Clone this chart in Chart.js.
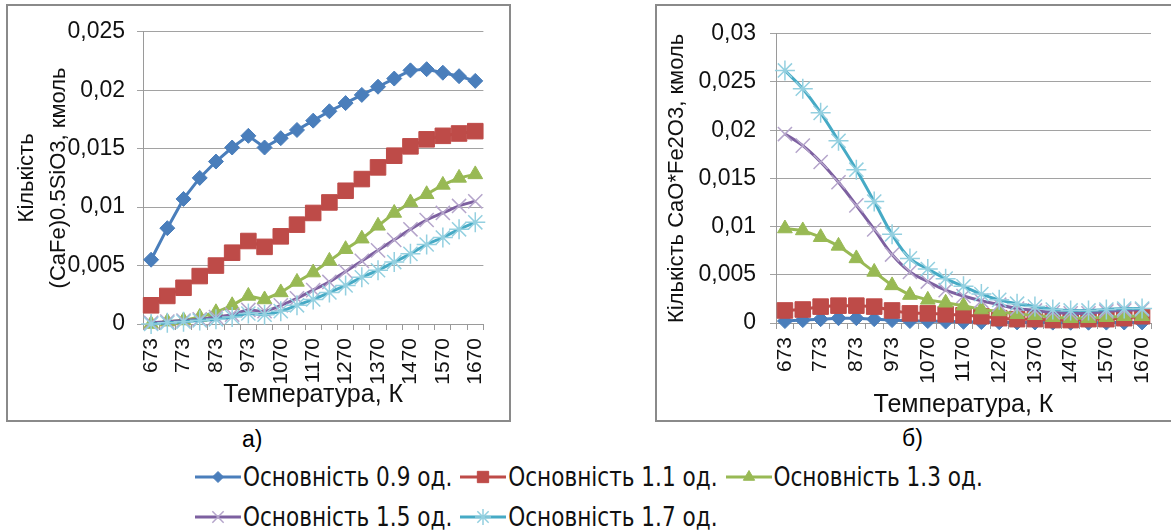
<!DOCTYPE html>
<html>
<head>
<meta charset="utf-8">
<script src="https://cdn.jsdelivr.net/npm/chart.js"></script>
<style>
    body { margin: 0; background: #fff; width: 1171px; height: 532px; overflow: hidden; position: relative; font-family: "Liberation Sans", Arial, sans-serif; }
    .box { position: absolute; border: 2px solid #8a8a8a; background: #fff; }
    .box canvas { position: absolute; left: 0; top: 0; }
    .caption { position: absolute; font-size: 23px; color: #000; }
    .legend-row { position: absolute; left: 195px; display: flex; align-items: center; gap: 8px; }
    .legend-item { display: flex; align-items: center; }
    .legend-item span { font-family: "DejaVu Sans Condensed", "DejaVu Sans", sans-serif; font-stretch: condensed; font-size: 24px; color: #111; margin-left: 2px; display: inline-block; transform: scaleY(1.1); }
</style>
</head>
<body>
<div class="box" id="boxA" style="left:6px; top:4px; width:501px; height:414px;"><canvas id="chartA" width="501" height="414"></canvas></div>
<div class="box" id="boxB" style="left:655px; top:4px; width:521px; height:414px;"><canvas id="chartB" width="521" height="414"></canvas></div>
<div class="caption" style="left:242px; top:426px;">а)</div>
<div class="caption" style="left:902px; top:425px;">б)</div>
<div class="legend-row" id="legendRow1" style="top:463px;"></div>
<div class="legend-row" id="legendRow2" style="top:503px;"></div>

<script>
const temperatures = ['673', '723', '773', '823', '873', '923', '973', '1020', '1070', '1120', '1170',
    '1220', '1270', '1320', '1370', '1420', '1470', '1520', '1570', '1620', '1670'];

const seriesNames = ['Основність 0.9 од.', 'Основність 1.1 од.', 'Основність 1.3 од.',
    'Основність 1.5 од.', 'Основність 1.7 од.'];

// (CaFe)0.5SiO3, кмоль
const silicate09 = [0.0055, 0.0082, 0.0107, 0.0125, 0.0139, 0.0151, 0.0161, 0.0151, 0.0159, 0.0166, 0.0174,
    0.0182, 0.0189, 0.0196, 0.0203, 0.0210, 0.0217, 0.0218, 0.0215, 0.0212, 0.0208];
const silicate11 = [0.0016, 0.0024, 0.0031, 0.0041, 0.0050, 0.0061, 0.0071, 0.0066, 0.0075, 0.0085, 0.0095,
    0.0104, 0.0114, 0.0124, 0.0134, 0.0144, 0.0152, 0.0158, 0.0161, 0.0163, 0.0165];
const silicate13 = [0.0000, 0.0002, 0.0003, 0.0006, 0.0010, 0.0016, 0.0024, 0.0021, 0.0027, 0.0036, 0.0044,
    0.0054, 0.0064, 0.0073, 0.0084, 0.0095, 0.0104, 0.0111, 0.0119, 0.0125, 0.0128];
const silicate15 = [0.0001, 0.0002, 0.0003, 0.0004, 0.0006, 0.0008, 0.0012, 0.0011, 0.0016, 0.0022, 0.0029,
    0.0036, 0.0045, 0.0054, 0.0063, 0.0072, 0.0081, 0.0089, 0.0095, 0.0101, 0.0105];
const silicate17 = [0.0000, 0.0001, 0.0002, 0.0003, 0.0004, 0.0006, 0.0009, 0.0008, 0.0011, 0.0016, 0.0021,
    0.0027, 0.0033, 0.0040, 0.0046, 0.0053, 0.0060, 0.0068, 0.0074, 0.0081, 0.0087];

// CaO*Fe2O3, кмоль
const ferrite09 = [0.0002, 0.0003, 0.0004, 0.0005, 0.0005, 0.0004, 0.0003, 0.0002, 0.0002, 0.00015, 0.00012,
    0.0001, 0.00008, 0.00006, 0.00005, 0.00004, 0.00003, 0.00003, 0.00004, 0.00005, 0.00006];
const ferrite11 = [0.0013, 0.0014, 0.0017, 0.0018, 0.0018, 0.0017, 0.0013, 0.0010, 0.0010, 0.0009, 0.0008,
    0.0007, 0.0005, 0.0004, 0.0004, 0.0003, 0.0003, 0.0004, 0.0004, 0.0005, 0.0007];
const ferrite13 = [0.0098, 0.0096, 0.0089, 0.0080, 0.0067, 0.0053, 0.0039, 0.0029, 0.0024, 0.0021, 0.0018,
    0.0014, 0.0012, 0.0009, 0.0008, 0.0006, 0.0005, 0.0005, 0.0006, 0.0007, 0.0007];
const ferrite15 = [0.0196, 0.0184, 0.0167, 0.0146, 0.0122, 0.0097, 0.0071, 0.0053, 0.0043, 0.0034, 0.0028,
    0.0023, 0.0019, 0.0015, 0.0013, 0.0011, 0.0010, 0.0010, 0.0012, 0.0013, 0.0014];
const ferrite17 = [0.0262, 0.0243, 0.0218, 0.0189, 0.0159, 0.0126, 0.0092, 0.0067, 0.0056, 0.0046, 0.0038,
    0.0030, 0.0024, 0.0020, 0.0017, 0.0014, 0.0013, 0.0013, 0.0014, 0.0015, 0.0015];

const lineColors = ['#4a7ebb', '#be4b48', '#98b954', '#7d60a0', '#46aac5'];
const markerColors = ['#4a7ebb', '#be4b48', '#98b954', '#b5a5cb', '#94d0e0'];
const markerStyles = ['rectRot', 'rect', 'triangle', 'crossRot', 'star'];
const markerSizes = [7.5, 11, 8.5, 10, 10];
const legendSizes = [5.5, 8, 6.5, 8, 8];

const fontFamily = '"Liberation Sans", Arial, sans-serif';

function formatTick(v) {
    return Number(v.toFixed(3)).toString().replace('.', ',');
}

function makeDatasets(seriesList) {
    return seriesList.map((values, i) => ({
        label: seriesNames[i],
        data: values,
        borderColor: lineColors[i],
        backgroundColor: markerColors[i],
        borderWidth: 3,
        tension: i >= 3 ? 0.4 : 0,
        pointStyle: markerStyles[i],
        pointRadius: markerSizes[i],
        pointBorderColor: markerColors[i],
        pointBackgroundColor: markerColors[i],
        pointBorderWidth: i >= 3 ? 1.5 : 1,
        order: 5 - i,
        clip: false
    }));
}

function renderChart(id, seriesList, yMax, yTitle, cfg) {
    const ctx = document.getElementById(id).getContext('2d');
    return new Chart(ctx, {
        type: 'line',
        data: { labels: temperatures, datasets: makeDatasets(seriesList) },
        options: {
            responsive: false,
            animation: false,
            layout: { padding: { top: cfg.top, right: cfg.right, left: 0, bottom: 0 } },
            plugins: { legend: { display: false }, tooltip: { enabled: false } },
            scales: {
                x: {
                    type: 'category',
                    offset: true,
                    afterFit: axis => { axis.height = cfg.xHeight; },
                    grid: { display: true, drawOnChartArea: false, drawTicks: true, tickLength: 6, offset: true, color: '#9a9a9a' },
                    border: { color: '#9a9a9a', width: 1 },
                    ticks: {
                        autoSkip: false, minRotation: 90, maxRotation: 90, padding: 8,
                        color: '#111', font: { family: fontFamily, size: 21 },
                        callback: (value, index) => index % 2 === 0 ? temperatures[index] : ''
                    },
                    title: { display: true, text: 'Температура, К', color: '#111',
                        font: { family: fontFamily, size: 25, lineHeight: 1.2 }, padding: { top: 0, bottom: cfg.xTitlePad } }
                },
                y: {
                    min: 0, max: yMax,
                    afterFit: axis => { axis.width = cfg.yWidth; },
                    grid: { color: '#a2a2a2', tickLength: 6, drawTicks: true },
                    border: { color: '#9a9a9a', width: 1 },
                    ticks: { stepSize: 0.005, padding: cfg.yTickPad, color: '#111',
                        font: { family: fontFamily, size: 23 }, callback: v => formatTick(v) },
                    title: { display: true, text: yTitle, color: '#111',
                        font: { family: fontFamily, size: 22, lineHeight: cfg.yTitleLine }, padding: { top: cfg.yTitlePad, bottom: 0 } }
                }
            }
        }
    });
}

renderChart('chartA', [silicate09, silicate11, silicate13, silicate15, silicate17], 0.025,
    ['Кількість', '(CaFe)0.5SiO3, кмоль'],
    { top: 21, right: 22, xHeight: 96, yWidth: 135, yTickPad: 12, yTitlePad: 3, yTitleLine: 1.45, xTitlePad: 10 });

renderChart('chartB', [ferrite09, ferrite11, ferrite13, ferrite15, ferrite17], 0.03,
    'Кількість CaO*Fe2O3, кмоль',
    { top: 16, right: 27, xHeight: 97, yWidth: 119, yTickPad: 14, yTitlePad: 7, yTitleLine: 1.2, xTitlePad: 0 });

// shared legend: line with marker drawn with Chart.js point helper
function legendItem(i) {
    const item = document.createElement('div');
    item.className = 'legend-item';
    const c = document.createElement('canvas');
    c.width = 46; c.height = 28;
    const g = c.getContext('2d');
    g.strokeStyle = lineColors[i];
    g.lineWidth = 3;
    g.beginPath(); g.moveTo(0, 14); g.lineTo(46, 14); g.stroke();
    g.fillStyle = lineColors[i];
    g.strokeStyle = i >= 3 ? markerColors[i] : lineColors[i];
    g.lineWidth = i >= 3 ? 1.5 : 1;
    Chart.helpers.drawPoint(g, { pointStyle: markerStyles[i], radius: legendSizes[i], rotation: 0, borderWidth: g.lineWidth }, 23, 14);
    const t = document.createElement('span');
    t.textContent = seriesNames[i];
    item.appendChild(c);
    item.appendChild(t);
    return item;
}

[0, 1, 2].forEach(i => document.getElementById('legendRow1').appendChild(legendItem(i)));
[3, 4].forEach(i => document.getElementById('legendRow2').appendChild(legendItem(i)));
</script>
</body>
</html>
